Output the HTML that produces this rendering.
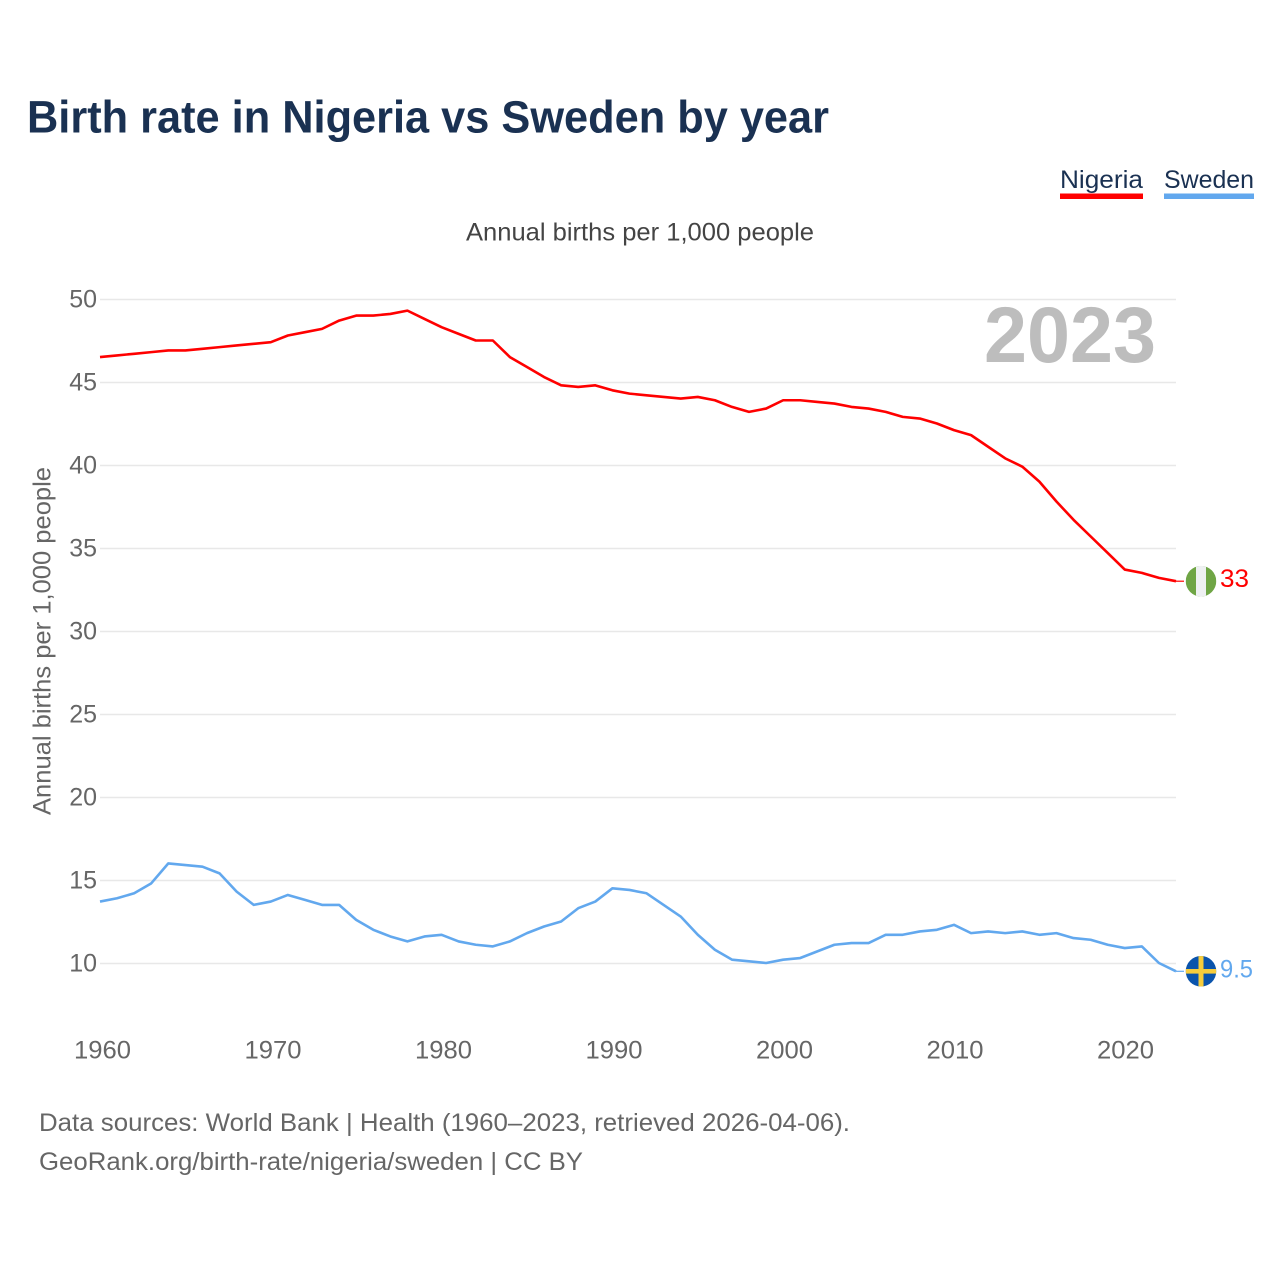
<!DOCTYPE html>
<html lang="en">
<head>
<meta charset="utf-8">
<title>Birth rate in Nigeria vs Sweden by year</title>
<style>
html,body{margin:0;padding:0;background:#fff;width:1280px;height:1280px;overflow:hidden}
svg{display:block}
text{font-family:"Liberation Sans",sans-serif}
</style>
</head>
<body>
<svg id="chart" width="1280" height="1280" viewBox="0 0 1280 1280" xmlns="http://www.w3.org/2000/svg">
<text x="27" y="132.5" font-size="45" font-weight="700" fill="#1a3152" textLength="802" lengthAdjust="spacingAndGlyphs">Birth rate in Nigeria vs Sweden by year</text>
<g>
<text x="1060" y="188" font-size="25" fill="#1a3152" textLength="83" lengthAdjust="spacingAndGlyphs">Nigeria</text>
<rect x="1060" y="193.5" width="83" height="5.5" fill="#ff0000"/>
</g>
<g>
<text x="1164" y="188" font-size="25" fill="#1a3152" textLength="90" lengthAdjust="spacingAndGlyphs">Sweden</text>
<rect x="1164" y="193.5" width="90" height="5.5" fill="#62a8ee"/>
</g>
<text x="466" y="240.5" font-size="25" fill="#444" textLength="348" lengthAdjust="spacingAndGlyphs">Annual births per 1,000 people</text>
<text transform="translate(50.5,815) rotate(-90)" font-size="25" fill="#666" textLength="348" lengthAdjust="spacingAndGlyphs">Annual births per 1,000 people</text>
<g id="grid"></g>
<g id="yticks"></g>
<g id="xticks"></g>
<text x="984" y="362" font-size="79" font-weight="700" fill="#bdbdbd" textLength="172" lengthAdjust="spacingAndGlyphs">2023</text>
<g id="series"></g>
<g id="markers"></g>
<text x="39" y="1131" font-size="25" fill="#666" textLength="811" lengthAdjust="spacingAndGlyphs">Data sources: World Bank | Health (1960–2023, retrieved 2026-04-06).</text>
<text x="39" y="1170" font-size="25" fill="#666" textLength="544" lengthAdjust="spacingAndGlyphs">GeoRank.org/birth-rate/nigeria/sweden | CC BY</text>
</svg>
<script>
const years = [1960,1961,1962,1963,1964,1965,1966,1967,1968,1969,1970,1971,1972,1973,1974,1975,1976,1977,1978,1979,1980,1981,1982,1983,1984,1985,1986,1987,1988,1989,1990,1991,1992,1993,1994,1995,1996,1997,1998,1999,2000,2001,2002,2003,2004,2005,2006,2007,2008,2009,2010,2011,2012,2013,2014,2015,2016,2017,2018,2019,2020,2021,2022,2023];
const nigeria = [46.5,46.6,46.7,46.8,46.9,46.9,47.0,47.1,47.2,47.3,47.4,47.8,48.0,48.2,48.7,49.0,49.0,49.1,49.3,48.8,48.3,47.9,47.5,47.5,46.5,45.9,45.3,44.8,44.7,44.8,44.5,44.3,44.2,44.1,44.0,44.1,43.9,43.5,43.2,43.4,43.9,43.9,43.8,43.7,43.5,43.4,43.2,42.9,42.8,42.5,42.1,41.8,41.1,40.4,39.9,39.0,37.8,36.7,35.7,34.7,33.7,33.5,33.2,33.0];
const sweden = [13.7,13.9,14.2,14.8,16.0,15.9,15.8,15.4,14.3,13.5,13.7,14.1,13.8,13.5,13.5,12.6,12.0,11.6,11.3,11.6,11.7,11.3,11.1,11.0,11.3,11.8,12.2,12.5,13.3,13.7,14.5,14.4,14.2,13.5,12.8,11.7,10.8,10.2,10.1,10.0,10.2,10.3,10.7,11.1,11.2,11.2,11.7,11.7,11.9,12.0,12.3,11.8,11.9,11.8,11.9,11.7,11.8,11.5,11.4,11.1,10.9,11.0,10.0,9.5];
const yTickValues = [10,15,20,25,30,35,40,45,50];
const xTickValues = [1960,1970,1980,1990,2000,2010,2020];

const NS = 'http://www.w3.org/2000/svg';
const X0 = 100, X1 = 1176, Y10 = 963, Y50 = 299;
const GRID_SHIFT = 0.5;
const xScale = v => X0 + (v - years[0]) * (X1 - X0) / (years[years.length - 1] - years[0]);
const yScale = v => Y10 + (v - 10) * (Y50 - Y10) / 40;
const mk = (tag, attrs, parent) => {
  const el = document.createElementNS(NS, tag);
  for (const k in attrs) el.setAttribute(k, attrs[k]);
  parent.appendChild(el);
  return el;
};
const grid = document.getElementById('grid');
const yticks = document.getElementById('yticks');
const xticks = document.getElementById('xticks');
const seriesG = document.getElementById('series');
const markers = document.getElementById('markers');

yTickValues.forEach(v => {
  const line = mk('line', {x1: X0, x2: X1, y1: yScale(v) + GRID_SHIFT, y2: yScale(v) + GRID_SHIFT, stroke: '#e8e8e8', 'stroke-width': 1.5}, grid);
  
  
  const t = mk('text', {x: 97, y: yScale(v) + 8.5, 'font-size': 25, fill: '#666', 'text-anchor': 'end'}, yticks);
  
  
  t.textContent = v;
});

xTickValues.forEach(v => {
  const t = mk('text', {x: xScale(v) + 2.5 - (v - xTickValues[0]) * 0.03, y: 1058.5, 'font-size': 25, fill: '#666', 'text-anchor': 'middle', textLength: 57, lengthAdjust: 'spacingAndGlyphs'}, xticks);
  
  
  t.textContent = v;
});

const drawSeries = (values, color, name) => {
  const pts = values.map((v, i) => xScale(years[i]).toFixed(2) + ',' + yScale(v).toFixed(2)).join(' ');
  const line = mk('polyline', {points: pts, fill: 'none', stroke: color, 'stroke-width': 2.6, 'stroke-linejoin': 'round'}, seriesG);
  
  
  const lastY = yScale(values[values.length - 1]);
  const tail = mk('line', {x1: X1, x2: 1184, y1: lastY, y2: lastY, stroke: color, 'stroke-width': 1.2}, seriesG);
  
  
};
drawSeries(nigeria, '#ff0000', 'nigeria');
drawSeries(sweden, '#62a8ee', 'sweden');

const FX = 1201, FR = 15.3;
const ny = yScale(nigeria[nigeria.length - 1]);
const sy = yScale(sweden[sweden.length - 1]);

const ngDefs = mk('clipPath', {id: 'clip-ng'}, markers);
mk('circle', {cx: FX, cy: ny, r: FR}, ngDefs);
const ngFlag = mk('g', {'clip-path': 'url(#clip-ng)'}, markers);


mk('rect', {x: FX - FR, y: ny - FR, width: FR * 2, height: FR * 2, fill: '#6fa545'}, ngFlag);
mk('rect', {x: FX - 5, y: ny - FR, width: 10, height: FR * 2, fill: '#eef0f2'}, ngFlag);

const seDefs = mk('clipPath', {id: 'clip-se'}, markers);
mk('circle', {cx: FX, cy: sy, r: FR}, seDefs);
const seFlag = mk('g', {'clip-path': 'url(#clip-se)'}, markers);


mk('rect', {x: FX - FR, y: sy - FR, width: FR * 2, height: FR * 2, fill: '#0b54ac'}, seFlag);
mk('rect', {x: FX - FR, y: sy - 2.3, width: FR * 2, height: 4.6, fill: '#f7cd3c'}, seFlag);
mk('rect', {x: FX - 2.5, y: sy - FR, width: 5, height: FR * 2, fill: '#f7cd3c'}, seFlag);

const ngLabel = mk('text', {x: 1220, y: ny + 6, 'font-size': 25, fill: '#ff0000', textLength: 29, lengthAdjust: 'spacingAndGlyphs'}, markers);


ngLabel.textContent = nigeria[nigeria.length - 1];

const seLabel = mk('text', {x: 1220, y: sy + 6, 'font-size': 25, fill: '#62a8ee', textLength: 33, lengthAdjust: 'spacingAndGlyphs'}, markers);


seLabel.textContent = sweden[sweden.length - 1];
</script>
</body>
</html>
